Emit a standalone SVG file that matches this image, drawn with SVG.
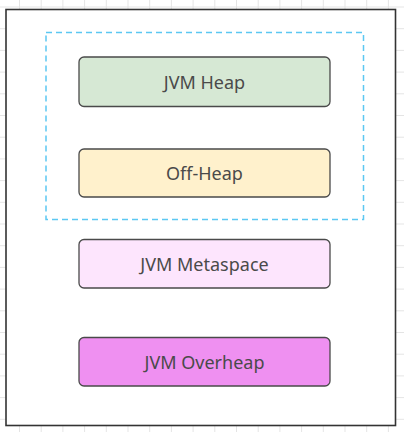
<svg xmlns="http://www.w3.org/2000/svg" width="404" height="432" viewBox="0 0 404 432">
<defs>
<pattern id="grid" x="19" y="6.5" width="21.7" height="21.7" patternUnits="userSpaceOnUse">
<path d="M0 0.5H21.7M0.5 0V21.7" fill="none" stroke="#e4e4e4" stroke-width="1"/>
</pattern>
<style>
.node rect{stroke:#4a4a4a;stroke-width:1.3}
.node text{font-family:"Noto Sans","Open Sans",sans-serif;font-size:18px;fill:#4a4a4a;text-anchor:middle;dominant-baseline:central}
</style>
</defs>
<rect width="404" height="432" fill="#fff"/>
<rect width="404" height="432" fill="url(#grid)"/>
<g id="outer"><rect x="6" y="9.5" width="389.5" height="416" fill="#fff" stroke="#333" stroke-width="1.6"/></g>
<g id="offheap-group"><rect x="46" y="32.5" width="317.5" height="187" fill="none" stroke="#5cc8f2" stroke-width="1.5" stroke-dasharray="6 4"/></g>
<g id="jvm-heap" class="node"><rect x="79" y="57" width="251" height="49.5" rx="5" fill="#d6e8d4"/><text x="204.5" y="81.5">JVM Heap</text></g>
<g id="off-heap" class="node"><rect x="79" y="149" width="251" height="48" rx="5" fill="#fff1cc"/><text x="204.5" y="173">Off-Heap</text></g>
<g id="jvm-metaspace" class="node"><rect x="79" y="239.5" width="251" height="48.5" rx="5" fill="#fde5fd"/><text x="204.5" y="263.5">JVM Metaspace</text></g>
<g id="jvm-overheap" class="node"><rect x="79" y="337.5" width="251" height="48.5" rx="5" fill="#ef90f1"/><text x="204.5" y="361.5">JVM Overheap</text></g>
<g id="connectors"></g>
</svg>
